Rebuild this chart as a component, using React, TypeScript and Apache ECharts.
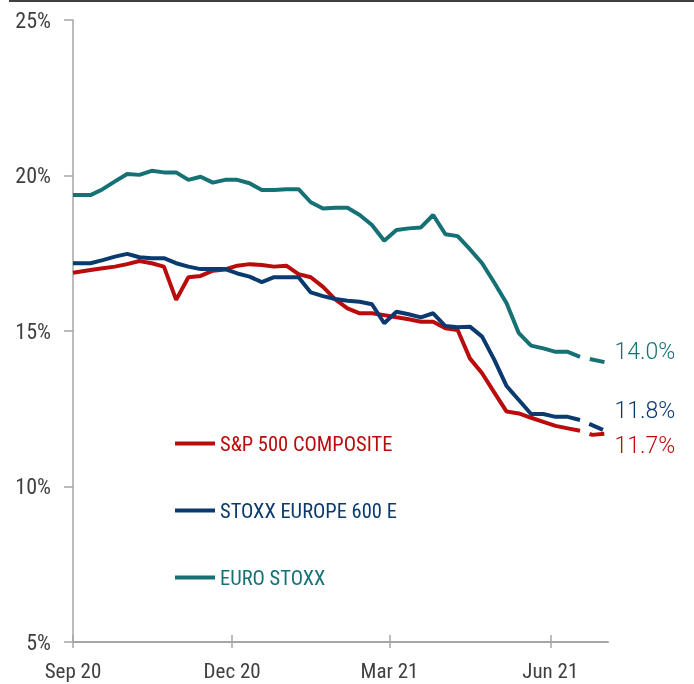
import React, { useEffect, useRef } from 'react';
import * as echarts from 'echarts';

const RED = '#BA0C0C';
const NAVY = '#0B3A6E';
const TEAL = '#167175';
const AXIS = '#A6A6A6';
const LABEL = '#404040';
const FONT = "'Noto Sans Condensed', 'Roboto Condensed', 'Liberation Sans Narrow', 'Open Sans Condensed', 'DejaVu Sans Condensed', sans-serif";
const VALUE_FONT = "Roboto, 'Liberation Sans', sans-serif";

// x-axis range and quarterly tick labels
const axisStart = '2020-09-01';
const axisEnd = '2021-07-04';
const tickDates = ['2020-09-01', '2020-12-01', '2021-03-01', '2021-06-01'];
const tickLabels = ['Sep 20', 'Dec 20', 'Mar 21', 'Jun 21'];

// weekly observation dates
const dates = [
  '2020-09-01', '2020-09-11', '2020-09-18', '2020-09-25',
  '2020-10-02', '2020-10-09', '2020-10-16', '2020-10-23', '2020-10-30',
  '2020-11-06', '2020-11-13', '2020-11-20', '2020-11-27',
  '2020-12-04', '2020-12-11', '2020-12-18', '2020-12-25',
  '2021-01-01', '2021-01-08', '2021-01-15', '2021-01-22', '2021-01-29',
  '2021-02-05', '2021-02-12', '2021-02-19', '2021-02-26',
  '2021-03-05', '2021-03-12', '2021-03-19', '2021-03-26',
  '2021-04-02', '2021-04-09', '2021-04-16', '2021-04-23', '2021-04-30',
  '2021-05-07', '2021-05-14', '2021-05-21', '2021-05-28',
  '2021-06-04', '2021-06-11', '2021-06-18',
];

const sp500 = [
  16.87, 16.96, 17.02, 17.07, 17.15, 17.25, 17.18, 17.07, 16.0, 16.73, 16.77,
  16.94, 16.98, 17.1, 17.15, 17.12, 17.07, 17.1, 16.83, 16.73, 16.42, 16.02,
  15.73, 15.57, 15.57, 15.51, 15.44, 15.38, 15.3, 15.3, 15.09, 15.03, 14.12,
  13.64, 13.02, 12.41, 12.35, 12.21, 12.08, 11.95, 11.87, 11.79,
];

const stoxx600 = [
  17.18, 17.18, 17.28, 17.39, 17.48, 17.37, 17.34, 17.34, 17.18, 17.07, 16.99,
  16.99, 16.99, 16.85, 16.75, 16.57, 16.73, 16.73, 16.73, 16.24, 16.12, 16.03,
  15.97, 15.94, 15.86, 15.25, 15.62, 15.54, 15.44, 15.57, 15.16, 15.12, 15.14,
  14.82, 14.07, 13.23, 12.78, 12.33, 12.33, 12.24, 12.24, 12.14,
];

const euroStoxx = [
  19.37, 19.37, 19.56, 19.81, 20.05, 20.02, 20.15, 20.1, 20.1, 19.86, 19.96,
  19.77, 19.86, 19.86, 19.75, 19.53, 19.53, 19.56, 19.56, 19.14, 18.94, 18.96,
  18.96, 18.73, 18.41, 17.9, 18.25, 18.3, 18.33, 18.73, 18.11, 18.05, 17.63,
  17.18, 16.55, 15.89, 14.93, 14.53, 14.44, 14.33, 14.33, 14.17,
];

// projected segment (dashed)
const projDates = ['2021-06-18', '2021-06-25', '2021-07-02'];
const sp500Proj = [11.79, 11.66, 11.7];
const stoxx600Proj = [12.14, null, 11.8];
const euroStoxxProj = [14.17, null, 14.0];

const names = ['S&P 500 COMPOSITE', 'STOXX EUROPE 600 E', 'EURO STOXX'];
const colors = [RED, NAVY, TEAL];
const labelOffsets = [12, -20, -11];

const ts = (d: string) => Date.parse(d + 'T00:00:00Z');

export default function App() {
  const ref = useRef<HTMLDivElement>(null);

  useEffect(() => {
    const chart = echarts.init(ref.current!, null, { renderer: 'svg' });
    const tickTs = tickDates.map(ts);
    const pairs = (ds: string[], vals: (number | null)[]) =>
      ds.map((d, i) => [ts(d), vals[i]]);
    const solids = [sp500, stoxx600, euroStoxx];
    const projs = [sp500Proj, stoxx600Proj, euroStoxxProj];

    const labelFor = (v: number) => {
      for (let i = 0; i < tickTs.length; i++) {
        if (Math.abs(v - tickTs[i]) < 3600000) return tickLabels[i];
      }
      return '';
    };

    const series: any[] = [];
    solids.forEach((vals, i) => {
      series.push({
        name: names[i],
        type: 'line',
        symbol: 'none',
        data: pairs(dates, vals),
        lineStyle: { color: colors[i], width: 4 },
        itemStyle: { color: colors[i] },
        z: 3,
      });
    });
    projs.forEach((vals, i) => {
      series.push({
        name: names[i] + ' (proj)',
        type: 'line',
        symbol: 'none',
        connectNulls: true,
        data: pairs(projDates, vals),
        lineStyle: { color: colors[i], width: 4, type: [15, 10], dashOffset: 15 },
        itemStyle: { color: colors[i] },
        z: 3,
        endLabel: {
          show: true,
          formatter: (p: any) => Number(p.value[1]).toFixed(1) + '%',
          color: colors[i],
          fontSize: 23,
          fontWeight: 300,
          fontFamily: VALUE_FONT,
          distance: 10,
          offset: [0, labelOffsets[i]],
        },
      });
    });

    chart.setOption({
      animation: false,
      textStyle: { fontFamily: FONT },
      grid: { left: 73, right: 86, top: 20, bottom: 42, containLabel: false },
      xAxis: [
        {
          type: 'value',
          min: ts(axisStart),
          max: ts(axisEnd),
          splitLine: { show: false },
          axisLine: { show: true, lineStyle: { color: AXIS, width: 2 } },
          axisTick: {
            show: true,
            length: 6,
            customValues: tickTs,
            lineStyle: { color: AXIS, width: 1.5 },
          },
          axisLabel: {
            show: true,
            customValues: tickTs,
            formatter: (v: number) => labelFor(v),
            fontSize: 21,
            fontFamily: FONT,
            color: LABEL,
            margin: 18,
          },
        },
        {
          type: 'value',
          position: 'bottom',
          min: ts(axisStart),
          max: ts(axisEnd),
          splitLine: { show: false },
          axisLine: { show: false },
          axisTick: {
            show: true,
            inside: true,
            length: 7,
            customValues: tickTs,
            lineStyle: { color: AXIS, width: 1.5 },
          },
          axisLabel: { show: false },
        },
      ],
      yAxis: {
        type: 'value',
        min: 5,
        max: 25,
        interval: 5,
        splitLine: { show: false },
        axisLine: { show: true, lineStyle: { color: AXIS, width: 1.5 } },
        axisTick: { show: true, length: 9, lineStyle: { color: AXIS, width: 1.5 } },
        axisLabel: {
          formatter: '{value}%',
          fontSize: 22,
          fontFamily: FONT,
          color: LABEL,
          margin: 22,
        },
      },
      legend: {
        orient: 'vertical',
        left: 170,
        top: 428,
        icon: 'rect',
        itemWidth: 40,
        itemHeight: 4,
        itemGap: 46,
        textStyle: { fontSize: 20.5, fontFamily: FONT },
        data: names.map((n, i) => ({ name: n, textStyle: { color: colors[i] } })),
      },
      graphic: [
        {
          type: 'rect',
          shape: { x: 9, y: 0, width: 685, height: 2 },
          style: { fill: '#404040' },
        },
      ],
      series,
    });

    return () => chart.dispose();
  }, []);

  return (
    <div
      ref={ref}
      style={{ position: 'fixed', left: 0, top: 0, width: 694, height: 684 }}
    />
  );
}
